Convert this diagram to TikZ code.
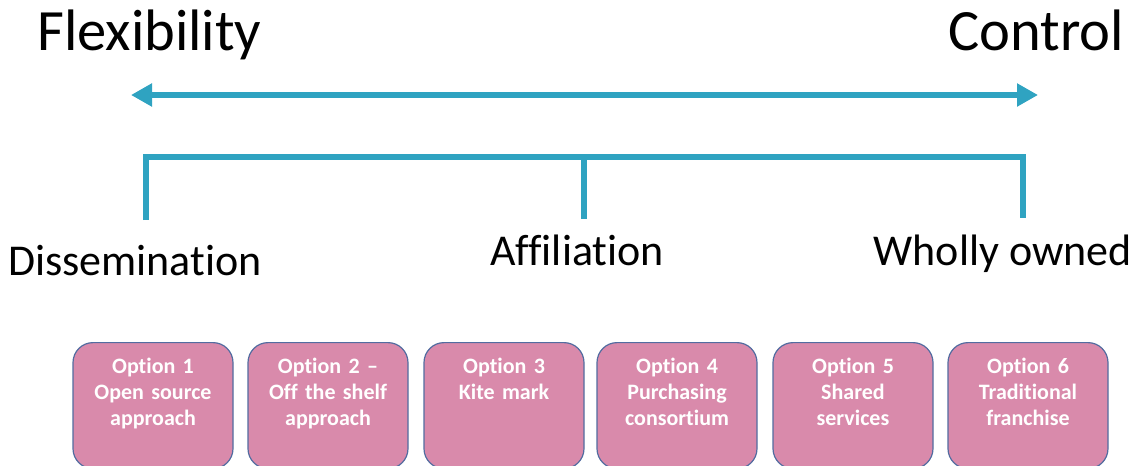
\documentclass[tikz,border=0pt]{standalone}
\usepackage{fontspec}
\setmainfont{Carlito}[Ligatures=CommonOff]
\usetikzlibrary{arrows.meta}
\definecolor{barblue}{RGB}{47,163,193}
\definecolor{optpink}{RGB}{217,138,171}
\definecolor{optedge}{RGB}{82,108,160}
\begin{document}
\begin{tikzpicture}[x=1pt,y=-1pt,
    spectrum/.style={line width=6pt,barblue,{Triangle[width=22pt,length=21pt]}-{Triangle[width=22pt,length=21pt]}},
    bracket/.style={line width=6pt,barblue},
    big/.style={inner sep=0pt,font=\fontsize{58.5}{60}\selectfont},
    mid/.style={inner sep=0pt,font=\fontsize{44}{46}\selectfont},
    optbox/.style={draw=optedge,line width=1.2pt,fill=optpink,rounded corners=20pt,
        anchor=north,minimum width=160pt,text width=150pt,align=center,
        text height=18pt,text depth=82pt,inner ysep=13pt,inner xsep=5pt,
        text=white,font=\bfseries\fontsize{22}{26}\selectfont}]
    \useasboundingbox (0,0) rectangle (1136,466);

    \node[big,anchor=base west] (flex) at (37,50) {Flexibility};
    \node[big,anchor=base east] (ctrl) at (1124,50) {Control};

    \coordinate (L) at (131,95);
    \coordinate (R) at (1038,95);
    \draw[spectrum] (R) -- (L);

    \coordinate (A) at (146,220);
    \coordinate (B) at (146,157);
    \coordinate (C) at (1023,157);
    \coordinate (D) at (1023,218);
    \coordinate (M) at (584,157);
    \coordinate (N) at (584,219);
    \draw[bracket] (A) -- (B) -- (C) -- (D);
    \draw[bracket] (M) -- (N);

    \node[mid,anchor=base west] (diss) at (8,275) {Dissemination};
    \node[mid,anchor=base] (affi) at (577,265) {Affiliation};
    \node[mid,anchor=base east] (whol) at (1132,265) {Wholly owned};

    \node[optbox] (opt1) at (153,342) {Option 1\\Open source\\approach};
    \node[optbox] (opt2) at (328,342) {Option 2 –\\Off the shelf\\approach};
    \node[optbox] (opt3) at (504,342) {Option 3\\Kite mark};
    \node[optbox] (opt4) at (677,342) {Option 4\\Purchasing\\consortium};
    \node[optbox] (opt5) at (853,342) {Option 5\\Shared\\services};
    \node[optbox] (opt6) at (1028,342) {Option 6\\Traditional\\franchise};
\end{tikzpicture}
\end{document}
